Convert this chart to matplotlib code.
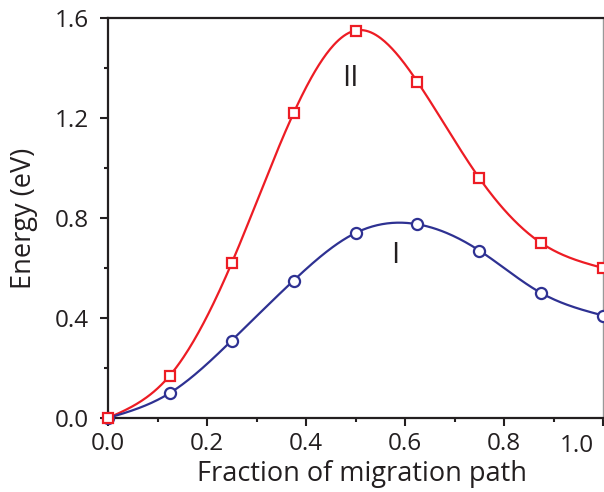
import numpy as np
import matplotlib
matplotlib.use("Agg")
import matplotlib.pyplot as plt
from matplotlib.ticker import MultipleLocator

x_frac = [0.0, 0.125, 0.25, 0.375, 0.5, 0.625, 0.75, 0.875, 1.0]
energy_II = [0.0, 0.17, 0.62, 1.22, 1.55, 1.345, 0.96, 0.70, 0.60]
energy_I = [0.0, 0.10, 0.31, 0.55, 0.74, 0.775, 0.67, 0.50, 0.41]
xticks = [0.0, 0.2, 0.4, 0.6, 0.8, 1.0]
xticklabels = ['0.0', '0.2', '0.4', '0.6', '0.8', '1.0']
yticks = [0.0, 0.4, 0.8, 1.2, 1.6]
yticklabels = ['0.0', '0.4', '0.8', '1.2', '1.6']


def natural_spline(x, y, xs):
    x = np.asarray(x, float); y = np.asarray(y, float)
    n = len(x)
    h = np.diff(x)
    A = np.zeros((n, n)); b = np.zeros(n)
    A[0, 0] = 1; A[-1, -1] = 1
    for i in range(1, n - 1):
        A[i, i - 1] = h[i - 1]
        A[i, i] = 2 * (h[i - 1] + h[i])
        A[i, i + 1] = h[i]
        b[i] = 3 * ((y[i + 1] - y[i]) / h[i] - (y[i] - y[i - 1]) / h[i - 1])
    c = np.linalg.solve(A, b)
    out = np.empty_like(xs)
    for k, xv in enumerate(xs):
        i = min(max(np.searchsorted(x, xv) - 1, 0), n - 2)
        dx = xv - x[i]
        bi = (y[i + 1] - y[i]) / h[i] - h[i] * (2 * c[i] + c[i + 1]) / 3
        di = (c[i + 1] - c[i]) / (3 * h[i])
        out[k] = y[i] + bi * dx + c[i] * dx ** 2 + di * dx ** 3
    return out


plt.rcParams['font.family'] = ['Open Sans', 'DejaVu Sans']
fig = plt.figure(figsize=(6.04, 4.92), dpi=100)
ax = fig.add_axes([108 / 604, (492 - 418) / 492, (603 - 108) / 604, 400 / 492])

red = '#ED1C24'
blue = '#2E3192'
dark = '#231F20'
xs = np.linspace(0, 1, 400)
ax.plot(xs, natural_spline(x_frac, energy_II, xs), color=red, lw=1.6, clip_on=False, zorder=2)
ax.plot(xs, natural_spline(x_frac, energy_I, xs), color=blue, lw=1.6, clip_on=False, zorder=2)
ax.plot(x_frac, energy_I, 'o', ms=8, mfc='white', mec=blue, mew=1.6, clip_on=False, zorder=3)
ax.plot(x_frac, energy_II, 's', ms=7.5, mfc='white', mec=red, mew=1.6, clip_on=False, zorder=4)

ax.set_xlim(0, 1.0)
ax.set_ylim(0, 1.6)
ax.set_xticks(xticks)
ax.set_yticks(yticks)
# last x tick label is shifted left (it sits at the figure edge), drawn separately
ax.set_xticklabels(xticklabels[:-1] + [''])
ax.set_yticklabels(yticklabels)
ax.xaxis.set_minor_locator(MultipleLocator(0.1))
ax.yaxis.set_minor_locator(MultipleLocator(0.2))
ax.tick_params(which='both', direction='out', width=1.5, colors=dark, labelsize=17.5)
ax.tick_params(which='major', length=6)
ax.tick_params(which='minor', length=3)
ax.tick_params(axis='x', which='major', pad=4)
ax.tick_params(axis='y', which='major', pad=8)

ax.annotate(xticklabels[-1], xy=(xticks[-1], 0), xycoords=('data', 'axes fraction'),
            xytext=(-26, -16), textcoords='offset pixels', ha='center', va='top',
            fontsize=17.5, color=dark, annotation_clip=False)

for s in ['left', 'bottom', 'top']:
    ax.spines[s].set_linewidth(1.6)
    ax.spines[s].set_color(dark)
ax.spines['right'].set_linewidth(1.0)
ax.spines['right'].set_color('#999999')

ax.set_xlabel('Fraction of migration path', fontsize=19.5, color=dark, va='center')
ax.set_ylabel('Energy (eV)', fontsize=19.5, color=dark, va='center')
ax.xaxis.set_label_coords((362 - 108) / 495, -(474 - 418) / 400)
ax.yaxis.set_label_coords(-(108 - 24) / 495, (418 - 218) / 400)
ax.text(0.49, 1.36, 'II', fontsize=21, color=dark, ha='center', va='center')
ax.text(0.58, 0.65, 'I', fontsize=21, color=dark, ha='center', va='center')

fig.savefig('out.png', dpi=100)
